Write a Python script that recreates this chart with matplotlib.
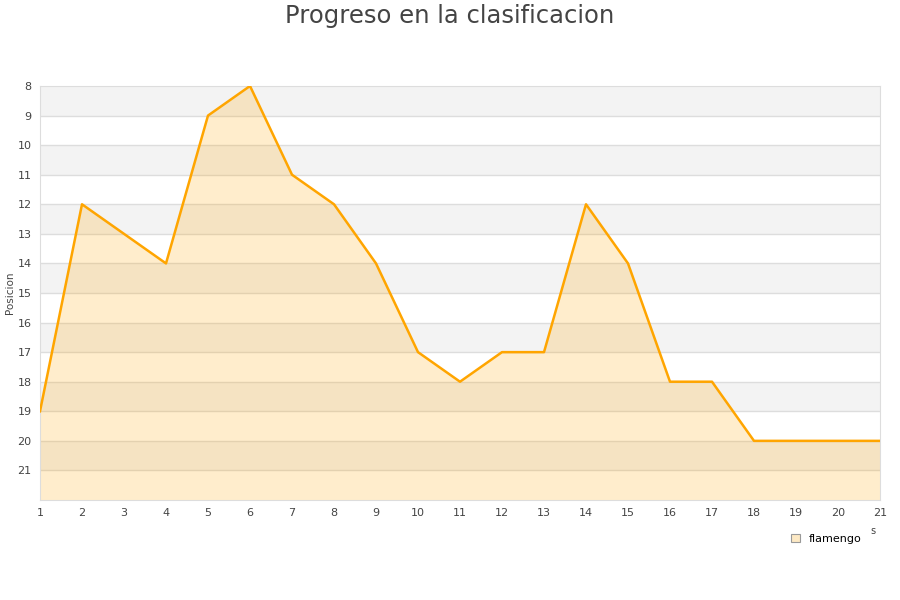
import matplotlib.pyplot as plt
from matplotlib.patches import Patch

# positions per jornada
jornadas = list(range(1, 22))
posicion = [19, 12, 13, 14, 9, 8, 11, 12, 14, 17, 18, 17, 17, 12, 14, 18, 18, 20, 20, 20, 20]
equipo = "flamengo"

fig = plt.figure(figsize=(9, 6), dpi=100)
ax = fig.add_axes([40 / 900, 100 / 600, 840 / 900, 414 / 600])

# alternating bands
for y0 in range(8, 22, 2):
    ax.axhspan(y0, y0 + 1, color="#f3f3f3", zorder=0, lw=0)
for y in range(9, 22):
    ax.axhline(y, color="#dddddd", lw=1, zorder=1)

ax.fill_between(jornadas, posicion, 22, color="#ffa500", alpha=0.2, lw=0, zorder=2)
ax.plot(jornadas, posicion, color="#ffa500", lw=1.8, zorder=3)

ax.set_xlim(1, 21)
ax.set_ylim(22, 8)
ax.set_xticks(jornadas)
ax.set_yticks(range(8, 22))
ax.tick_params(length=0, labelsize=8, colors="#444444", pad=6)
for s in ax.spines.values():
    s.set_color("#dddddd")

fig.text(10 / 900, 1 - 293 / 600, "Posicion", fontsize=7.5, color="#444444",
         rotation=90, ha="center", va="center")
fig.text(873 / 900, 1 - 531 / 600, "s", fontsize=7, color="#444444", ha="center", va="center")

fig.text(0.5, 1 - 16 / 600, "Progreso en la clasificacion", fontsize=17.5, color="#444444",
         ha="center", va="center")

handle = Patch(facecolor="#fde9c4", edgecolor="#999999", lw=0.8)
fig.legend([handle], [equipo], loc="center", bbox_to_anchor=(826 / 900, 1 - 539 / 600),
           frameon=False, fontsize=8, handlelength=0.8, handleheight=0.8, handletextpad=0.8)

fig.savefig("out.png")
